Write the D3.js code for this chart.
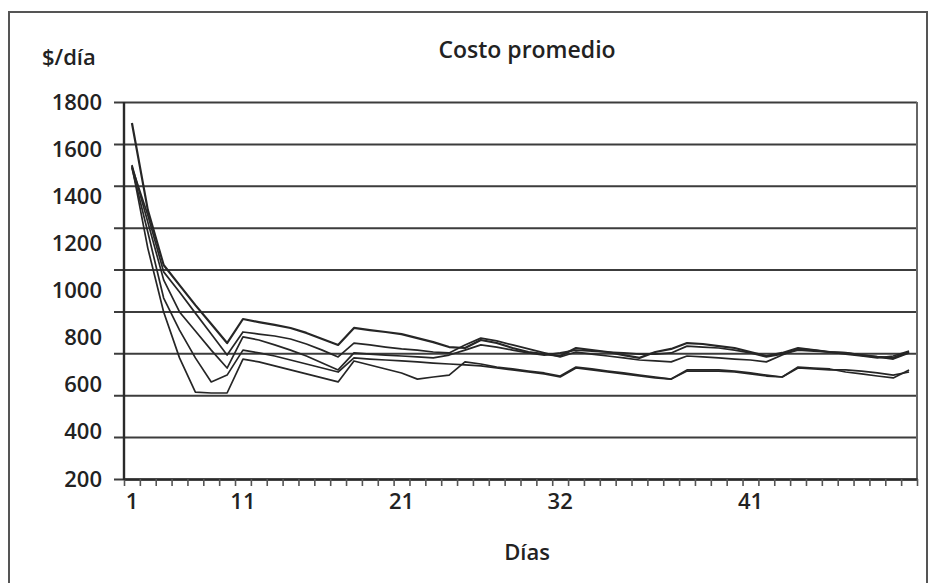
<!DOCTYPE html>
<html>
<head>
<meta charset="utf-8">
<script src="https://cdn.jsdelivr.net/npm/d3@7"></script>
<style>
  html, body { margin: 0; padding: 0; background: #fff; }
  svg { display: block; }
  text { font-family: "Open Sans", "Noto Sans", sans-serif; fill: #222; font-weight: 600; }
</style>
</head>
<body>
<svg id="chart" width="933" height="583"></svg>
<script>
// ---------- data ----------
const days = [1,2,3,4,5,6,7,8,9,10,11,12,13,14,15,16,17,18,19,20,21,22,23,24,25,
              26,27,28,29,30,31,32,33,34,35,36,37,38,39,40,41,42,43,44,45,46,47,48,49,50];

const serieA = [1711,1342,1108,1023,938,858,777,879,866,854,841,820,794,769,841,832,824,815,798,781,
                760,756,790,777,756,739,730,722,756,747,739,726,714,739,752,777,773,764,756,739,
                722,735,756,747,739,735,726,718,714,739];
const serieB = [1524,1320,1079,994,904,815,726,824,815,807,794,773,747,718,777,769,760,752,747,739,
                735,769,798,786,769,752,735,718,739,730,722,714,705,701,697,722,718,714,709,705,
                697,726,752,747,739,730,722,714,722,743];
const serieC = [1533,1291,1045,909,828,747,671,803,790,769,747,722,692,663,735,730,726,722,718,714,
                726,747,769,760,747,735,726,735,747,743,739,735,730,730,735,764,760,756,747,735,
                718,730,747,743,739,735,726,718,709,735];
const serieD = [1520,1248,968,832,714,612,641,747,735,722,705,688,671,654,714,709,705,701,697,692,
                688,684,680,671,663,654,646,633,671,663,654,646,637,629,624,658,658,658,654,646,
                637,633,671,667,663,663,658,650,641,654];
const serieE = [1529,1180,909,714,569,565,565,709,697,680,663,646,629,612,701,684,667,650,624,633,
                641,697,688,675,667,658,650,637,675,667,658,650,641,633,624,663,663,663,658,650,
                641,633,675,671,667,654,646,637,629,663];

const series = [serieA, serieB, serieC, serieD, serieE];

const yLabels = [1800, 1600, 1400, 1200, 1000, 800, 600, 400, 200];
const yGridCount = 10;               // horizontal grid lines in the original
const xTickLabels = ["1", "11", "21", "32", "41"];
const xTickDays = [1, 8, 18, 28, 40];

const title = "Costo promedio";
const yTitle = "$/día";
const xTitle = "Días";

// ---------- layout ----------
const svg = d3.select("#chart");
const L = 124, R = 917, T = 102, B = 479;

// outer frame
svg.append("rect")
  .attr("x", 9).attr("y", 12).attr("width", 918).attr("height", 600)
  .attr("fill", "none").attr("stroke", "#555").attr("stroke-width", 2);

const x = d3.scaleBand().domain(days).range([L, R]).padding(0);
const xLin = d3.scaleLinear().domain([0, days.length]).range([L, R]);
const y = d3.scaleLinear().domain([200, 1800]).range([B, T]);

// grid lines (with outward tick stubs)
const gridVals = d3.range(yGridCount).map(k => 200 + k * 1600 / (yGridCount - 1));
const gGrid = svg.append("g").attr("transform", `translate(${L},0)`)
  .call(d3.axisLeft(y).tickValues(gridVals).tickSize(-(R - L)).tickSizeOuter(0).tickFormat(""));
gGrid.select(".domain").remove();
gGrid.selectAll(".tick line")
  .attr("x1", -10)
  .attr("stroke", "#3c3c3c").attr("stroke-width", 2);

// y labels
const gYL = svg.append("g").attr("transform", `translate(${L},0)`)
  .call(d3.axisLeft(y).tickValues(yLabels).tickSize(0).tickPadding(22).tickFormat(d3.format("d")));
gYL.select(".domain").remove();
gYL.selectAll("text")
  .style("font-family", '"Open Sans", sans-serif')
  .style("font-weight", 600)
  .style("font-size", "22px").attr("fill", "#222");

// plot border (right side)
svg.append("line").attr("x1", R).attr("x2", R).attr("y1", T).attr("y2", B)
  .attr("stroke", "#666").attr("stroke-width", 2);

// x tick marks
const gX = svg.append("g").attr("transform", `translate(0,${B})`)
  .call(d3.axisBottom(xLin).tickValues(d3.range(0, days.length + 1)).tickSize(7).tickSizeOuter(0).tickFormat(""));
gX.select(".domain").attr("stroke", "#2a2a2a").attr("stroke-width", 2.4);
gX.selectAll(".tick line").attr("stroke", "#555").attr("stroke-width", 1.6);

// x labels
const gXL = svg.append("g").attr("transform", `translate(0,${B})`)
  .call(d3.axisBottom(x).tickValues(xTickDays).tickSize(0).tickPadding(14)
        .tickFormat((d, i) => xTickLabels[i]));
gXL.select(".domain").remove();
gXL.selectAll("text")
  .style("font-family", '"Open Sans", sans-serif')
  .style("font-weight", 600)
  .style("font-size", "22px").attr("fill", "#222");

// left axis line
svg.append("line").attr("x1", L).attr("x2", L).attr("y1", T).attr("y2", B + 1)
  .attr("stroke", "#2a2a2a").attr("stroke-width", 2.4);

// lines
const line = d3.line()
  .x((d, i) => x(days[i]) + x.bandwidth() / 2)
  .y(d => y(d));

svg.append("g").selectAll("path").data(series).join("path")
  .attr("d", line)
  .attr("fill", "none")
  .attr("stroke", "#262626")
  .attr("stroke-width", (d, i) => i === 0 ? 2.2 : 1.7)
  .attr("stroke-linejoin", "round");

// titles
svg.append("text").attr("x", 527).attr("y", 58).attr("text-anchor", "middle")
  .style("font-size", "23px").text(title);
svg.append("text").attr("x", 42).attr("y", 65).attr("text-anchor", "start")
  .style("font-size", "22px").text(yTitle);
svg.append("text").attr("x", 527).attr("y", 560).attr("text-anchor", "middle")
  .style("font-size", "22px").text(xTitle);
</script>
</body>
</html>
